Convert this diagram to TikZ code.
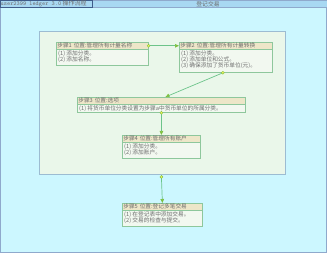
\documentclass[tikz,border=0pt]{standalone}
\usepackage{fontspec}
\setmainfont{Noto Sans CJK SC}
\usetikzlibrary{arrows.meta}
\definecolor{bgc}{HTML}{CCF7FF}
\definecolor{frm}{HTML}{8FA9CC}
\definecolor{tbar}{HTML}{A8D8F2}
\definecolor{tbox}{HTML}{3F5C8A}
\definecolor{grp}{HTML}{EAF7EA}
\definecolor{grpb}{HTML}{9CBCD2}
\definecolor{boxb}{HTML}{8EC79C}
\definecolor{boxf}{HTML}{F2F8F0}
\definecolor{hdrf}{HTML}{EDE6C8}
\definecolor{txt}{HTML}{6E6E6E}
\definecolor{conn}{HTML}{6CC48A}
\definecolor{tipc}{HTML}{7CC040}
\definecolor{dotc}{HTML}{F2F25A}
\tikzset{
  stepbox/.style={draw=boxb, fill=boxf, line width=0.8pt, rectangle, inner sep=0pt, anchor=north west},
  hdrbox/.style={fill=hdrf, draw=boxb, line width=0.6pt, rectangle, inner sep=0pt, anchor=north west, minimum height=7pt, text=txt, font=\fontsize{5.7pt}{6pt}\selectfont, align=left, inner xsep=1pt},
  bodytxt/.style={anchor=north west, inner sep=0pt, text=txt, font=\fontsize{5.7pt}{6.1pt}\selectfont, align=left},
  link/.style={draw=conn, line width=0.7pt, -{Triangle[length=4pt,width=3.5pt,fill=tipc,color=tipc]}},
  startdot/.style={circle, fill=dotc, draw=tipc, line width=0.4pt, minimum size=3pt, inner sep=0pt}
}
\begin{document}
\begin{tikzpicture}[x=1pt,y=-1pt]
\useasboundingbox (0,0) rectangle (327,253);
% background
\fill[bgc] (0,0) rectangle (327,253);
\draw[frm, line width=1pt] (0.5,0.5) rectangle (326.3,252.3);
% title bar
\node[fill=tbar, draw=frm, line width=0.6pt, minimum width=327pt, minimum height=7.5pt, inner sep=0pt, anchor=north west] (tb) at (0,0) {};
\node[draw=tbox, line width=0.6pt, minimum width=92pt, minimum height=7.5pt, inner sep=0pt, anchor=north west] (tl) at (0,0) {};
\node[text=txt, font=\fontsize{6pt}{6.5pt}\selectfont, inner sep=0pt, anchor=west] (tlt) at ([xshift=0.5pt]tl.west) {\texttt{user2399 ledger 3.0} 操作流程};
\node[text=txt, font=\fontsize{5.8pt}{6pt}\selectfont, inner sep=0pt] (ttl) at (208,3.8) {登记交易};
% group
\node[fill=grp, draw=grpb, line width=0.9pt, minimum width=246pt, minimum height=143pt, inner sep=0pt, anchor=north west] (grp) at (39,31) {};
% box 1
\node[stepbox, minimum width=92pt, minimum height=23pt] (b1) at (56,42) {};
\node[hdrbox, text width=90pt] (b1h) at (b1.north west) {步骤1 位置:管理所有计量名称};
\node[bodytxt] (b1t) at ([xshift=2pt,yshift=-8.8pt]b1.north west) {(1)\ 添加分类。\\(2)\ 添加名称。};
% box 2
\node[stepbox, minimum width=93pt, minimum height=30pt] (b2) at (179,42) {};
\node[hdrbox, text width=91pt] (b2h) at (b2.north west) {步骤2 位置:管理所有计量转换};
\node[bodytxt] (b2t) at ([xshift=2pt,yshift=-8.8pt]b2.north west) {(1)\ 添加分类。\\(2)\ 添加单位和公式。\\(3)\ 确保添加了货币单位(元)。};
% box 3
\node[stepbox, minimum width=168pt, minimum height=15pt] (b3) at (77,97) {};
\node[hdrbox, text width=166pt] (b3h) at (b3.north west) {步骤3 位置:选项};
\node[bodytxt] (b3t) at ([xshift=2pt,yshift=-8.6pt]b3.north west) {(1)\ 将货币单位分类设置为步骤a中货币单位的所属分类。};
% box 4
\node[stepbox, minimum width=78pt, minimum height=23pt] (b4) at (122,135) {};
\node[hdrbox, text width=76pt] (b4h) at (b4.north west) {步骤4 位置:管理所有账户};
\node[bodytxt] (b4t) at ([xshift=2pt,yshift=-8.8pt]b4.north west) {(1)\ 添加分类。\\(2)\ 添加账户。};
% box 5
\node[stepbox, minimum width=80pt, minimum height=23pt] (b5) at (122,203) {};
\node[hdrbox, text width=78pt] (b5h) at (b5.north west) {步骤5 位置:登记多笔交易};
\node[bodytxt] (b5t) at ([xshift=2pt,yshift=-8.8pt]b5.north west) {(1)\ 在登记表中添加交易。\\(2)\ 交易的检查与提交。};
% connectors
\coordinate (s1) at (b1h.east);
\coordinate (e2) at (b2h.west);
\draw[link] (s1) -- (e2);
\node[startdot] (d1) at (s1) {};
\coordinate (s2) at ([xshift=-3pt]b2.south);
\coordinate (e3) at ([xshift=4pt]b3.north);
\draw[link] (s2) -- (e3);
\node[startdot] (d2) at (s2) {};
\coordinate (s3) at (b3.south);
\coordinate (e4) at (b4.north);
\draw[link] (s3) -- (e4);
\node[startdot] (d3) at (s3) {};
\coordinate (s4) at ([yshift=-2pt]grp.south -| b4.south);
\coordinate (e5) at (b5.north);
\draw[link] (s4) -- (e5);
\node[startdot] (d4) at (s4) {};
\end{tikzpicture}
\end{document}
